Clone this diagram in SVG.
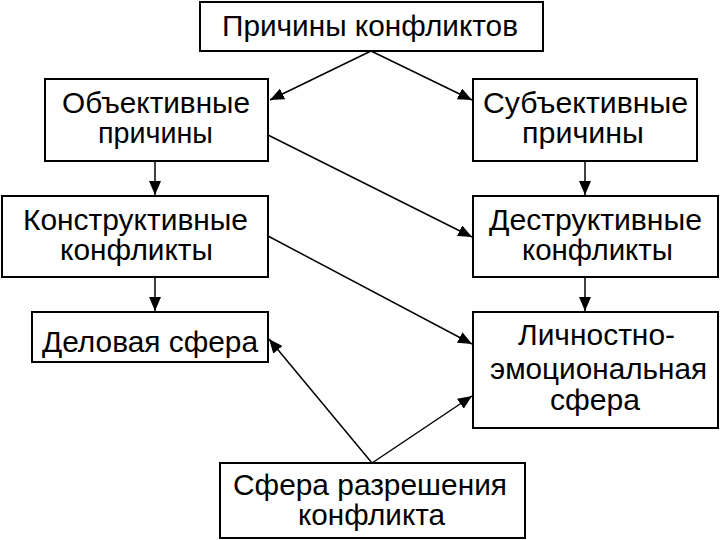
<svg xmlns="http://www.w3.org/2000/svg" width="720" height="540" viewBox="0 0 720 540">
<style>
.box{fill:#fff;stroke:#000;stroke-width:2}
.t{font-family:"Liberation Sans",Arial,sans-serif;font-size:30px;fill:#000;text-anchor:middle}
.c{stroke:#000;stroke-width:1.5;fill:none;marker-end:url(#ah)}
</style>
<defs>
<marker id="ah" markerUnits="userSpaceOnUse" markerWidth="14" markerHeight="12" viewBox="0 0 14 12" refX="14" refY="6" orient="auto">
<path d="M0,0 L14,6 L0,12 Z" fill="#000"/>
</marker>
</defs>
<rect width="720" height="540" fill="#fff"/>
<g id="connectors">
<line class="c" x1="371" y1="51" x2="270" y2="100"/>
<line class="c" x1="371" y1="51" x2="472" y2="100"/>
<line class="c" x1="155" y1="161" x2="155" y2="195"/>
<line class="c" x1="585" y1="161" x2="585" y2="195"/>
<line class="c" x1="155" y1="277" x2="155" y2="311"/>
<line class="c" x1="585" y1="277" x2="585" y2="311"/>
<line class="c" x1="268" y1="135" x2="472" y2="237"/>
<line class="c" x1="268" y1="236" x2="472" y2="344"/>
<line class="c" x1="372" y1="463" x2="269" y2="339"/>
<line class="c" x1="372" y1="463" x2="472" y2="396"/>
</g>
<g id="n-prichiny">
<rect class="box" x="200" y="2" width="343" height="49"/>
<text class="t" x="370" y="36" textLength="296" lengthAdjust="spacingAndGlyphs">Причины конфликтов</text>
</g>
<g id="n-obj">
<rect class="box" x="45" y="79" width="223" height="82"/>
<text class="t" x="156" y="113" textLength="188" lengthAdjust="spacingAndGlyphs">Объективные</text>
<text class="t" x="155.5" y="143" textLength="115" lengthAdjust="spacingAndGlyphs">причины</text>
</g>
<g id="n-subj">
<rect class="box" x="473" y="79" width="224" height="82"/>
<text class="t" x="585.5" y="113" textLength="205" lengthAdjust="spacingAndGlyphs">Субъективные</text>
<text class="t" x="583" y="143" textLength="122" lengthAdjust="spacingAndGlyphs">причины</text>
</g>
<g id="n-constr">
<rect class="box" x="2" y="196" width="266" height="81"/>
<text class="t" x="135.5" y="230" textLength="225" lengthAdjust="spacingAndGlyphs">Конструктивные</text>
<text class="t" x="136.5" y="260" textLength="153" lengthAdjust="spacingAndGlyphs">конфликты</text>
</g>
<g id="n-destr">
<rect class="box" x="473" y="196" width="245" height="81"/>
<text class="t" x="595.5" y="230" textLength="213" lengthAdjust="spacingAndGlyphs">Деструктивные</text>
<text class="t" x="597.5" y="260" textLength="151" lengthAdjust="spacingAndGlyphs">конфликты</text>
</g>
<g id="n-delovaya">
<rect class="box" x="32" y="312" width="236" height="50"/>
<text class="t" x="150" y="352" textLength="216" lengthAdjust="spacingAndGlyphs">Деловая сфера</text>
</g>
<g id="n-lichn">
<rect class="box" x="473" y="312" width="245" height="116"/>
<text class="t" x="596.5" y="345" textLength="157" lengthAdjust="spacingAndGlyphs">Личностно-</text>
<text class="t" x="598.5" y="379" textLength="217" lengthAdjust="spacingAndGlyphs">эмоциональная</text>
<text class="t" x="595" y="410" textLength="90" lengthAdjust="spacingAndGlyphs">сфера</text>
</g>
<g id="n-razr">
<rect class="box" x="220" y="463" width="305" height="75"/>
<text class="t" x="370" y="495" textLength="274" lengthAdjust="spacingAndGlyphs">Сфера разрешения</text>
<text class="t" x="371.5" y="525" textLength="147" lengthAdjust="spacingAndGlyphs">конфликта</text>
</g>
</svg>
